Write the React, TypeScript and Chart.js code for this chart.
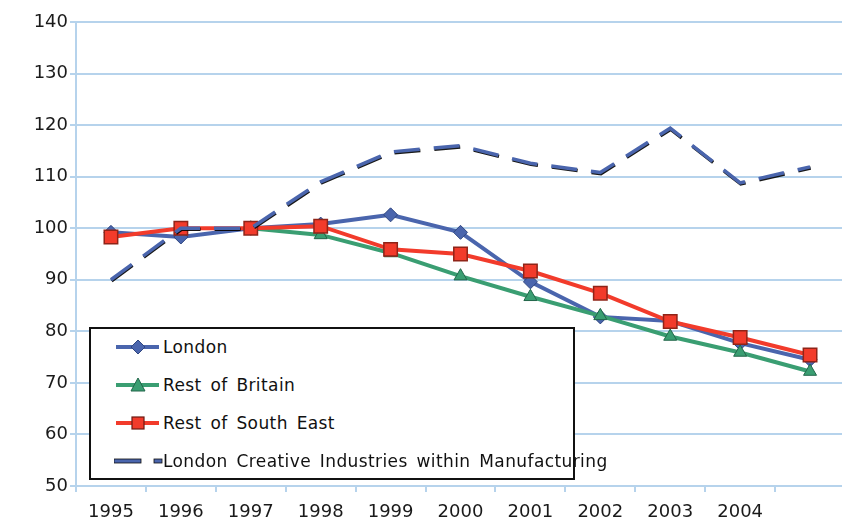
import React, { useEffect, useRef } from "react";
import { Chart, registerables } from "chart.js";

Chart.register(...registerables);

const years = ["1995", "1996", "1997", "1998", "1999", "2000", "2001", "2002", "2003", "2004", ""];
const london = [99.2, 98.3, 100, 100.8, 102.6, 99.2, 89.6, 82.8, 82.0, 77.7, 74.5];
const restOfBritain = [null, null, 100, 98.7, 95.2, 90.7, 86.7, 83.0, 79.0, 75.9, 72.2];
const restOfSouthEast = [98.3, 100, 100, 100.4, 95.9, 95.0, 91.7, 87.4, 81.9, 78.8, 75.4];
const creativeManufacturing = [90.0, 100, 100, 109.0, 114.8, 116.0, 112.6, 110.8, 119.4, 108.8, 111.9];
const yTicks = [50, 60, 70, 80, 90, 100, 110, 120, 130, 140];

const seriesNames = [
  "London",
  "Rest of Britain",
  "Rest of South East",
  "London Creative Industries within Manufacturing",
];

const BLUE = "#4a65ad";
const GREEN = "#3a9e72";
const RED = "#f23b2b";
const GRID = "#b6d3ec";
const FONT = "'DejaVu Sans', sans-serif";

const shadowPlugin = {
  id: "dashShadow",
  beforeDatasetDraw(chart: any, args: any) {
    if (args.index === 3) {
      const ctx = chart.ctx;
      ctx.save();
      ctx.shadowColor = "rgba(0,0,0,0.9)";
      ctx.shadowOffsetX = 0.6;
      ctx.shadowOffsetY = 1.1;
      ctx.shadowBlur = 0;
    }
  },
  afterDatasetDraw(chart: any, args: any) {
    if (args.index === 3) chart.ctx.restore();
  },
};

function LegendRow({ top, kind, label }: { top: number; kind: string; label: string }) {
  let marker: React.ReactNode = null;
  let line: React.ReactNode = null;
  if (kind === "london") {
    line = <line x1={2} y1={10} x2={45} y2={10} stroke={BLUE} strokeWidth={4} />;
    marker = <polygon points="24,3 31,10 24,17 17,10" fill={BLUE} stroke="#2f4680" strokeWidth={1} />;
  } else if (kind === "green") {
    line = <line x1={2} y1={10} x2={45} y2={10} stroke={GREEN} strokeWidth={4} />;
    marker = <polygon points="24,3 31,16 17,16" fill={GREEN} stroke="#22664a" strokeWidth={1} />;
  } else if (kind === "red") {
    line = <line x1={2} y1={10} x2={45} y2={10} stroke={RED} strokeWidth={4} />;
    marker = <rect x={18} y={4} width={12} height={12} fill={RED} stroke="#6b1a12" strokeWidth={1.2} />;
  } else {
    line = (
      <g>
        <rect x={0} y={8} width={27} height={4} fill={BLUE} stroke="#111" strokeWidth={0.8} />
        <rect x={40} y={8} width={8} height={4} fill={BLUE} stroke="#111" strokeWidth={0.8} />
      </g>
    );
  }
  return (
    <div style={{ position: "absolute", left: 0, top, height: 20, width: 480 }}>
      <svg width={50} height={20} style={{ position: "absolute", left: 23, top: 0 }}>
        {line}
        {marker}
      </svg>
      <span
        style={{
          position: "absolute",
          left: 72,
          top: 0,
          lineHeight: "20px",
          fontFamily: FONT,
          fontSize: 17,
          letterSpacing: "0.4px",
          wordSpacing: "3px",
          color: "#111",
          whiteSpace: "nowrap",
        }}
      >
        {label}
      </span>
    </div>
  );
}

export default function App() {
  const canvasRef = useRef<HTMLCanvasElement | null>(null);

  useEffect(() => {
    if (!canvasRef.current) return;
    const chart = new Chart(canvasRef.current, {
      type: "line",
      data: {
        labels: years,
        datasets: [
          {
            label: seriesNames[0],
            data: london,
            borderColor: BLUE,
            backgroundColor: BLUE,
            borderWidth: 4,
            pointStyle: "rectRot",
            pointRadius: 7,
            pointBackgroundColor: BLUE,
            pointBorderColor: "#2f4680",
            pointBorderWidth: 1,
            order: 3,
          },
          {
            label: seriesNames[1],
            data: restOfBritain,
            borderColor: GREEN,
            backgroundColor: GREEN,
            borderWidth: 4,
            pointStyle: "triangle",
            pointRadius: 7.5,
            pointBackgroundColor: GREEN,
            pointBorderColor: "#22664a",
            pointBorderWidth: 1,
            spanGaps: false,
            order: 2,
          },
          {
            label: seriesNames[2],
            data: restOfSouthEast,
            borderColor: RED,
            backgroundColor: RED,
            borderWidth: 4,
            pointStyle: "rect",
            pointRadius: 9.5,
            pointBackgroundColor: RED,
            pointBorderColor: "#8f2418",
            pointBorderWidth: 1.5,
            order: 1,
          },
          {
            label: seriesNames[3],
            data: creativeManufacturing,
            borderColor: BLUE,
            backgroundColor: BLUE,
            borderWidth: 3.5,
            borderDash: [26, 14],
            borderCapStyle: "butt",
            pointRadius: 0,
            order: 0,
          },
        ],
      },
      options: {
        responsive: false,
        animation: false,
        devicePixelRatio: 1,
        layout: { padding: { top: 22, right: 0, left: 0, bottom: 0 } },
        plugins: {
          legend: { display: false },
          tooltip: { enabled: false },
        },
        elements: { line: { tension: 0 } },
        scales: {
          x: {
            offset: true,
            grid: {
              display: true,
              drawOnChartArea: false,
              drawTicks: true,
              tickLength: 6,
              color: GRID,
              lineWidth: 2,
              offset: true,
            },
            border: { display: true, color: GRID, width: 2 },
            ticks: {
              autoSkip: false,
              maxRotation: 0,
              padding: 10,
              color: "#1a1a1a",
              font: { family: FONT, size: 18 },
            },
            afterFit: (s: any) => {
              s.height = 38;
            },
          },
          y: {
            min: 50,
            max: 140,
            afterBuildTicks: (s: any) => {
              s.ticks = yTicks.map((v) => ({ value: v }));
            },
            grid: {
              color: GRID,
              lineWidth: 2,
              drawTicks: true,
              tickLength: 6,
            },
            border: { display: true, color: GRID, width: 2 },
            ticks: {
              padding: 2,
              color: "#1a1a1a",
              font: { family: FONT, size: 18 },
            },
            afterFit: (s: any) => {
              s.width = 76;
            },
          },
        },
      },
      plugins: [shadowPlugin],
    });
    return () => chart.destroy();
  }, []);

  return (
    <div
      style={{
        position: "fixed",
        left: 0,
        top: 0,
        width: 842,
        height: 524,
        overflow: "hidden",
        background: "#fff",
      }}
    >
      <canvas ref={canvasRef} width={856} height={524} style={{ width: 856, height: 524, display: "block" }} />
      <div
        style={{
          position: "absolute",
          left: 89,
          top: 327,
          width: 486,
          height: 153,
          boxSizing: "border-box",
          border: "2px solid #111",
          background: "#fff",
        }}
      >
        <LegendRow top={8} kind="london" label={seriesNames[0]} />
        <LegendRow top={46} kind="green" label={seriesNames[1]} />
        <LegendRow top={84} kind="red" label={seriesNames[2]} />
        <LegendRow top={122} kind="dash" label={seriesNames[3]} />
      </div>
    </div>
  );
}
